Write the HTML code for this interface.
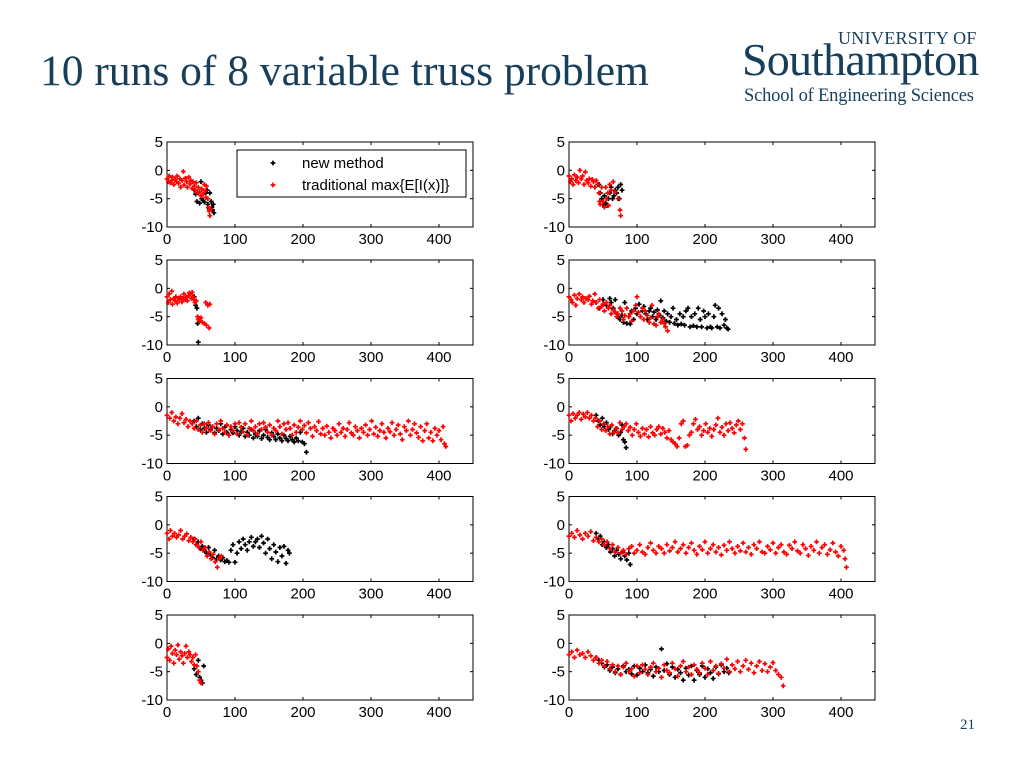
<!DOCTYPE html>
<html><head><meta charset="utf-8">
<style>
body{margin:0;background:#fff;width:1024px;height:768px;overflow:hidden;position:relative;font-family:"Liberation Sans",sans-serif}
.title{position:absolute;left:40px;top:46px;font-family:"Liberation Serif",serif;font-size:43.5px;color:#173f5c;white-space:nowrap}
.logo1{position:absolute;left:838px;top:28px;font-family:"Liberation Serif",serif;font-size:18px;color:#173f5c;letter-spacing:0.3px}
.logo2{position:absolute;left:742px;top:33px;font-family:"Liberation Serif",serif;font-size:46px;color:#173f5c;letter-spacing:-0.8px}
.logo3{position:absolute;left:744px;top:86px;font-family:"Liberation Serif",serif;font-size:18.5px;color:#173f5c;letter-spacing:-0.2px}
.pg{position:absolute;left:960px;top:717px;font-family:"Liberation Serif",serif;font-size:15px;color:#173f5c}
svg{position:absolute;left:0;top:0}
</style></head><body>
<div class="title">10 runs of 8 variable truss problem</div>
<div class="logo1">UNIVERSITY OF</div>
<div class="logo2">Southampton</div>
<div class="logo3">School of Engineering Sciences</div>
<div class="pg">21</div>
<svg id="c" width="1024" height="768"></svg>
<script>
const xTicks=[0,100,200,300,400];
const yTicks=[5,0,-5,-10];
const legendLabels=["new method","traditional max{E[I(x)]}"];
const red1=[0,-1.5,2,-2,3,-1,5,-2.2,7,-1.8,8,-1.2,10,-2.5,12,-1.6,14,-2,15,-1,17,-2.3,19,-1.5,20,-3,22,-1.8,24,-0.2,25,-2.6,27,-1.4,29,-2,30,-3,32,-1.2,34,-2.4,35,-1.8,37,-3.2,38,-2,40,-2.8,42,-3.5,43,-2.2,45,-4,46,-3,48,-3.8,50,-4.5,51,-3.3,53,-4.2,55,-2.5,56,-3.6,57,-4.8,58,-2.8,60,-5,61,-6.5,62,-7.2,63,-8,64,-6.8];
const blk1=[40,-3.5,42,-4.2,44,-5.5,46,-4,48,-5.8,50,-2,51,-5,53,-5.3,55,-5.6,57,-4,59,-3.5,60,-6,62,-6.8,63,-4,65,-5.5,66,-6.5,67,-7,68,-6,69,-7.5];
const red2=[0,-1,2,-2,4,-1.5,6,-2.5,8,-0.8,10,-1.8,12,-1.2,14,-2.2,16,0,18,-1.5,20,-1,22,-2.5,24,-0.3,26,-1.8,28,-2.2,30,-1.5,32,-2.8,34,-1.6,36,-2,38,-3,40,-1.8,42,-2.5,44,-4,45,-5.5,46,-6,48,-3,50,-5.5,52,-6.5,54,-3,55,-5,57,-4,58,-6.2,60,-2.5,62,-3.5,65,-2,68,-3.8,72,-5,75,-7,76,-8];
const blk2=[44,-2.5,46,-4,48,-5,50,-6,52,-4.5,54,-5.8,56,-6.2,58,-5,60,-4,62,-3,64,-5,66,-4.5,68,-3.5,70,-4,72,-3,74,-5,76,-2.5,78,-3.5];
const red3=[0,-1.5,2,-2.5,3,-1,5,-2,7,-0.5,8,-2.8,10,-1.8,12,-2.2,13,-1.5,15,-2.6,17,-1.7,18,-2,20,-1.5,22,-2.4,24,-1.8,25,-1,27,-2,28,-1.6,30,-2.2,32,-1.3,33,-0.8,35,-1,36,-1.8,37,-0.7,38,-1.5,40,-2,41,-2.5,43,-2.2,45,-5,46,-5.5,48,-5.8,50,-5.2,52,-6,55,-6.2,57,-2.5,58,-6.5,60,-3,62,-7,63,-2.8];
const blk3=[40,-1.5,42,-3,44,-3.5,45,-6.2,46,-9.5];
const red4=[0,-1.5,3,-2,5,-2.5,8,-1.2,10,-3,12,-1.8,15,-1,18,-2,20,-1.5,22,-2.5,25,-1.8,28,-2,30,-1.4,33,-2.8,35,-2.2,38,-1,40,-2.5,43,-3.5,45,-2,48,-3.2,50,-2.8,52,-4,55,-2.5,58,-3.5,60,-3,62,-4.5,65,-3.8,68,-4.2,70,-5,72,-4.5,75,-3.5,78,-4,80,-5.5,82,-4.8,85,-3.5,88,-5,90,-4.5,92,-5.8,95,-4,98,-3,100,-1.5,102,-4.2,105,-5,108,-3.5,110,-5.5,112,-4,115,-4.8,118,-6,120,-5.2,122,-3,125,-6.3,128,-6.5,130,-5,132,-4.5,135,-6,138,-5.5,140,-6.2,142,-6.8,145,-7.5];
const blk4=[40,-2.5,45,-3.5,50,-2,55,-3,60,-1.8,62,-2.5,65,-3.5,68,-2,70,-4.5,72,-5,75,-5.5,78,-4.8,80,-6,82,-2.5,85,-6.2,88,-5,90,-6.3,92,-4,95,-5.5,98,-3.5,100,-4.5,103,-2.8,105,-5,108,-4,110,-3.2,113,-4.5,115,-5.5,118,-4,120,-3.5,123,-5,125,-4.2,128,-5.5,130,-3.8,133,-4.8,135,-2.2,138,-5.2,140,-4,143,-5.8,145,-4.5,148,-6,150,-5,153,-3.5,155,-6.2,158,-5.5,160,-6.5,163,-4.5,165,-6.3,168,-5,170,-6.5,172,-4,175,-3.5,178,-6.8,180,-5,183,-6.6,185,-4.5,188,-6.8,190,-3.5,193,-5.5,195,-6.8,198,-4,200,-5,203,-7,205,-4.5,208,-6.8,210,-7,213,-5,215,-3,218,-6.8,220,-3.5,222,-7,225,-4.5,228,-6.5,230,-5.5,232,-7,234,-7.2];
const red5=[0,-1.5,4,-2,7,-1,10,-2.5,13,-1.8,16,-3,19,-2,22,-1.2,25,-2.8,28,-2.2,31,-3.5,34,-2.5,37,-3,40,-3.8,43,-2.5,46,-4,49,-3.2,52,-4.5,55,-3,58,-3.8,61,-2.8,64,-4.2,67,-3.5,70,-4.8,73,-3,76,-4,79,-2.5,82,-3.8,85,-4.5,88,-3.2,91,-5,94,-3.5,97,-4.2,100,-3,103,-4.8,106,-2.8,109,-3.6,112,-4.4,115,-3,118,-5,121,-3.8,124,-2.5,127,-4.2,130,-3.5,133,-4.8,136,-3,139,-4,142,-2.8,145,-3.6,148,-4.5,151,-3.2,154,-5,157,-3.8,160,-4.2,163,-2.5,166,-3.5,169,-4.8,172,-3,175,-4,178,-2.8,181,-3.8,184,-5,187,-3.2,190,-4.5,193,-3.6,196,-2.5,199,-4,202,-3.3,205,-4.6,208,-2.8,211,-3.8,214,-5.2,217,-3.5,220,-4.2,223,-2.6,226,-4.8,229,-3.8,232,-5,235,-3.4,238,-4.5,241,-5.5,244,-3.8,247,-4.2,250,-5,253,-3,256,-4.5,259,-3.8,262,-5.2,265,-4,268,-2.8,271,-4.6,274,-5,277,-3.5,280,-4.2,283,-5.5,286,-3.8,289,-4.5,292,-3.2,295,-5,298,-4,301,-2.5,304,-4.8,307,-3.6,310,-5.2,313,-4.2,316,-3,319,-4.5,322,-5.5,325,-3.8,328,-4.4,331,-2.8,334,-5,337,-4,340,-3.2,343,-4.8,346,-5.8,349,-3.5,352,-4.2,355,-2.5,358,-5,361,-4,364,-3,367,-4.6,370,-5.4,373,-3.5,376,-6,379,-4.2,382,-3,385,-5.5,388,-4.5,391,-6,394,-3.8,397,-5,400,-4.2,403,-5.8,406,-3.5,408,-6.5,410,-7];
const blk5=[40,-2.5,43,-3.5,46,-2,49,-4,52,-3,55,-3.8,58,-4.5,61,-3.2,64,-4,67,-3.5,70,-4.6,73,-3.8,76,-4.2,79,-3,82,-4.8,85,-3.6,88,-4.5,91,-5,94,-4,97,-4.6,100,-3.5,103,-4.2,106,-5,109,-4.4,112,-3.8,115,-5.2,118,-4.5,121,-5,124,-4,127,-5.5,130,-4.8,133,-5.2,136,-4.2,139,-5.6,142,-5,145,-4,148,-5.4,151,-5.8,154,-4.6,157,-5.2,160,-5.8,163,-4.8,166,-5.5,169,-6,172,-5,175,-5.6,178,-6,181,-5.2,184,-5.8,187,-6.2,190,-5.5,193,-6,196,-4.5,199,-6.2,202,-6.5,205,-8];
const red6=[0,-1.5,3,-2.5,6,-1.2,9,-2,12,-1.5,15,-1,18,-2.2,21,-1.3,24,-1.8,27,-1,30,-2,33,-1.5,36,-2.5,39,-2,42,-3.5,45,-2.5,48,-4,51,-3,54,-4.2,57,-3.5,60,-4.8,63,-3.2,66,-4.5,69,-3.8,72,-4.6,75,-2.8,78,-4,81,-3.5,84,-3,87,-4.2,90,-3.6,93,-5,96,-4,99,-3,102,-4.5,105,-5.2,108,-3.8,111,-4.8,114,-4,117,-5.3,120,-3.5,123,-4.6,126,-5,129,-4,132,-3.5,135,-4.8,138,-3.8,141,-4.5,144,-5.5,147,-4.2,150,-5.8,153,-6.2,156,-6.5,159,-7,162,-5.5,165,-3,168,-2.5,171,-7,174,-6.8,177,-5,180,-4.5,183,-3,186,-2.2,189,-4,192,-3.5,195,-5,198,-4.2,201,-3,204,-4.5,207,-3.8,210,-5.2,213,-4,216,-3.2,219,-2,222,-4.5,225,-3.6,228,-5,231,-3,234,-4.2,237,-2.8,240,-3.8,243,-4.6,246,-3.2,249,-2.5,252,-4,255,-3,258,-5.5,260,-7.5];
const blk6=[40,-1.5,43,-2.5,46,-3.2,49,-2,52,-3.5,55,-2.8,58,-4,61,-3.5,64,-4.8,67,-4.2,70,-3.8,73,-5,76,-4.5,78,-3.2,80,-5.8,82,-6.2,84,-7.2];
const red7=[0,-1.5,3,-2.5,5,-1,8,-2,11,-1.5,14,-2.2,17,-1.8,20,-1,23,-2.5,26,-2,29,-1.6,32,-2.8,35,-2.2,38,-3,41,-2.5,44,-3.5,47,-4,50,-3,53,-4.5,56,-4,59,-5.5,62,-4.8,65,-6,68,-5.2,71,-6.5,74,-7.5,77,-6,80,-5.5];
const blk7=[40,-2.5,43,-3.5,46,-3,49,-4.2,52,-3.8,55,-4.5,58,-5,61,-4,64,-5.2,67,-5.8,70,-4.5,73,-6,76,-5.5,79,-6.2,82,-5.8,85,-6.5,88,-6.3,91,-6.6,94,-4.5,97,-3.5,100,-6.6,103,-5,106,-3,109,-4.2,112,-2.5,115,-3.5,118,-4.5,121,-3,124,-2.2,127,-3.8,130,-3,133,-2.5,136,-4,139,-2,142,-3.2,145,-5,148,-2.5,151,-4.2,154,-6,157,-3.5,160,-4.8,163,-6.5,166,-4,169,-5.5,172,-3.8,175,-6.8,178,-4.5,180,-5];
const red8=[0,-2,4,-1.5,8,-2.2,12,-1,16,-1.8,20,-2.5,24,-1.5,28,-2,32,-1.2,36,-2.8,40,-2.2,44,-3,48,-2.5,52,-3.5,56,-3,60,-4.2,64,-3.5,68,-4.8,72,-4,76,-5,80,-4.5,84,-5.2,88,-4.2,92,-3.8,96,-5,100,-4.5,104,-3.5,108,-4.8,112,-5.2,116,-4,120,-3.2,124,-4.5,128,-5,132,-3.8,136,-4.2,140,-5,144,-3.5,148,-4.6,152,-4,156,-3,160,-4.8,164,-4.2,168,-3.5,172,-5,176,-4,180,-3.2,184,-4.5,188,-5.2,192,-3.8,196,-4.4,200,-3,204,-5,208,-4.2,212,-3.5,216,-4.8,220,-4,224,-5.3,228,-3.6,232,-4.5,236,-3,240,-4.2,244,-5,248,-3.8,252,-4.6,256,-3.2,260,-4.8,264,-4,268,-5.2,272,-3.5,276,-4.2,280,-3,284,-4.8,288,-5,292,-3.8,296,-4.4,300,-3.2,304,-5,308,-4,312,-3.5,316,-4.8,320,-5.2,324,-3.6,328,-4.2,332,-3,336,-4.6,340,-5,344,-3.5,348,-4.2,352,-5.4,356,-3.8,360,-4.5,364,-3,368,-5,372,-4,376,-3.5,380,-5.2,384,-4.4,388,-3.2,392,-4.8,396,-5.5,400,-3.8,404,-4.5,406,-6,408,-7.5];
const blk8=[40,-1.5,43,-2.5,46,-2,49,-3.5,52,-3,55,-4,58,-3.5,61,-4.8,64,-4.2,67,-5.5,70,-4.5,73,-5.2,76,-6,79,-4.8,82,-5.5,85,-6.2,88,-5,90,-7];
const red9=[0,-2.5,2,-1,4,-3,6,-0.5,8,-1.8,10,-3.5,12,-1.2,14,-2,16,-0.3,18,-2.8,20,-1.5,22,-2.2,24,-3.5,26,-1.8,28,-0.5,30,-2.5,32,-1.5,34,-2,36,-3.2,38,-2.5,40,-3.8,42,-2,44,-4,46,-5,48,-6.5,50,-7];
const blk9=[40,-4.5,43,-5.5,46,-3,48,-6,50,-6.5,52,-7,54,-4];
const red10=[0,-2,4,-1.5,8,-2.5,12,-1.2,16,-2,20,-1.8,24,-2.5,28,-1.5,32,-2.2,36,-3,40,-2.5,44,-3.5,48,-3,52,-4,56,-3.2,60,-4.5,64,-3.8,68,-5,72,-4,76,-5.5,80,-4.2,84,-3.5,88,-5,92,-4.5,96,-5.8,100,-4,104,-5.2,108,-3.8,112,-4.6,116,-5.5,120,-4.2,124,-3.5,128,-5,132,-4.4,136,-6,140,-3.8,144,-4.8,148,-5.2,152,-3.5,156,-4.5,160,-5.8,164,-4,168,-3.2,172,-5,176,-4.2,180,-5.5,184,-3.8,188,-4.6,192,-5.2,196,-3.5,200,-4.4,204,-5.5,208,-3.2,212,-4.8,216,-4,220,-5.3,224,-3.6,228,-4.4,232,-2.8,236,-5,240,-3.8,244,-4.5,248,-3.2,252,-5,256,-4,260,-3,264,-4.6,268,-3.5,272,-5.2,276,-4,280,-3.2,284,-4.8,288,-3.6,292,-5,296,-4.2,300,-3.4,304,-4.8,308,-5.5,312,-6,315,-7.5];
const blk10=[40,-2.5,44,-3,48,-3.5,52,-4.2,56,-3.8,60,-4.8,64,-4.2,68,-5.2,72,-4.5,76,-5.5,80,-4,84,-5,88,-4.6,92,-5.4,96,-4,100,-5.6,104,-4.4,108,-5,112,-3.8,116,-5.2,120,-4.6,124,-5.8,128,-4.2,132,-5,136,-1,140,-4.8,144,-3.6,148,-5.5,152,-4.2,156,-6,160,-4.6,164,-5.2,168,-6.5,172,-4.4,176,-5.6,180,-4,184,-6.5,188,-4.8,192,-5.5,196,-4,200,-6,204,-4.5,208,-5.2,212,-6.2,216,-4.2,220,-5.4,224,-3.8,228,-5,232,-4.4,235,-5.2];
const redRuns=[red1,red2,red3,red4,red5,red6,red7,red8,red9,red10];
const blkRuns=[blk1,blk2,blk3,blk4,blk5,blk6,blk7,blk8,blk9,blk10];

const NS="http://www.w3.org/2000/svg";
const svg=document.getElementById('c');
function mk(tag,attrs,parent){const e=document.createElementNS(NS,tag);for(const k in attrs)e.setAttribute(k,attrs[k]);(parent||svg).appendChild(e);return e;}
const W=306,H=85,colX=[167,569],rowY=[142,260,378.5,496.5,615];
function plus(g,cx,cy,col){
  const p=mk('path',{d:`M${cx-2.4} ${cy}h4.8M${cx} ${cy-2.4}v4.8`,stroke:col,'stroke-width':1.7,fill:'none'},g);
  
  
}
for(let i=0;i<10;i++){
  const x0=colX[i%2],y0=rowY[Math.floor(i/2)];
  const sx=v=>x0+v/450*W, sy=v=>y0+(5-v)/15*H;
  const g=mk('g',{});
  
  
  mk('rect',{x:x0,y:y0,width:W,height:H,fill:'#fff',stroke:'#000','stroke-width':1},g);
  xTicks.forEach(t=>{
    const X=sx(t);
    mk('line',{x1:X,x2:X,y1:y0+H,y2:y0+H-3,stroke:'#000'},g);
    mk('line',{x1:X,x2:X,y1:y0,y2:y0+3,stroke:'#000'},g);
    const tx=mk('text',{x:X,y:y0+H+17,'text-anchor':'middle','font-size':15,'font-family':'Liberation Sans, sans-serif'},g);
    tx.textContent=t;
    
    
  });
  yTicks.forEach(t=>{
    const Y=sy(t);
    mk('line',{x1:x0,x2:x0+3,y1:Y,y2:Y,stroke:'#000'},g);
    mk('line',{x1:x0+W,x2:x0+W-3,y1:Y,y2:Y,stroke:'#000'},g);
    const ty=mk('text',{x:x0-4,y:Y+5,'text-anchor':'end','font-size':15,'font-family':'Liberation Sans, sans-serif'},g);
    ty.textContent=t;
    
    
  });
  const b=blkRuns[i],r=redRuns[i];
  for(let k=0;k<b.length;k+=2)plus(g,sx(b[k]),sy(b[k+1]),'#000');
  for(let k=0;k<r.length;k+=2)plus(g,sx(r[k]),sy(r[k+1]),'#f00');
}
const lg=mk('g',{});


mk('rect',{x:237,y:150,width:229,height:47,fill:'#fff',stroke:'#000'},lg);
[['#000',163],['#f00',185]].forEach((c,j)=>{
  plus(lg,273,c[1],c[0]);
  const t=mk('text',{x:302,y:c[1]+5,'font-size':15,'font-family':'Liberation Sans, sans-serif'},lg);
  t.textContent=legendLabels[j];
  
  
});
</script>
</body></html>
